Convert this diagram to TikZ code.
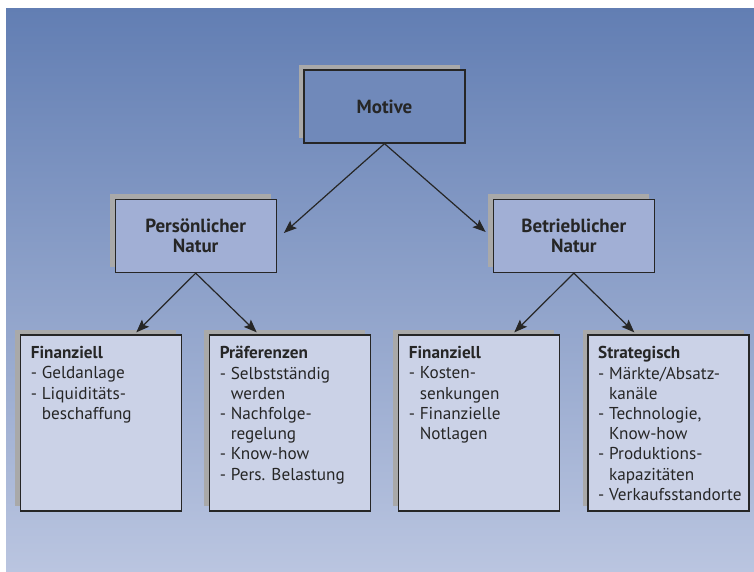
\documentclass[tikz,border=0pt]{standalone}
\usepackage{fontspec}
\setmainfont{PT Sans}
\usetikzlibrary{shadows,arrows.meta,calc}
\definecolor{bgtop}{HTML}{627EB3}
\definecolor{bgbot}{HTML}{BAC5E0}
\definecolor{fillA}{HTML}{7089BA}
\definecolor{fillB}{HTML}{A1AFD5}
\definecolor{fillC}{HTML}{CBD2E7}
\definecolor{shadowgray}{HTML}{A9A9A9}
\definecolor{ink}{HTML}{262626}
\newcommand\dashi{\makebox[11pt][l]{-}}
\newcommand\conti{\hspace*{11pt}}
\begin{document}
\begin{tikzpicture}[x=1pt,y=-1pt,
  boxbase/.style={draw=ink, line width=1.3pt, rectangle, minimum width=161pt, inner sep=0pt,
    drop shadow={shadow xshift=-5.5pt, shadow yshift=5.5pt, fill=shadowgray, opacity=1}},
  topbox/.style={boxbase, minimum height=73pt, align=center, text=ink,
    font=\fontsize{19}{19.5}\selectfont\bfseries},
  lowbox/.style={boxbase, minimum height=176pt, fill=fillC},
  boxtext/.style={anchor=north west, inner sep=0pt, align=left, text=ink,
    font=\fontsize{17.2}{20.2}\selectfont},
  conn/.style={draw=ink, line width=1.2pt, -{Stealth[length=13pt,width=10pt,inset=2.5pt]}}]
\useasboundingbox (0,0) rectangle (754,571);
\shade[top color=bgtop, bottom color=bgbot] (6,8) rectangle (754,571);

\node[topbox, fill=fillA] (mot) at (384.5,106.5) {Motive};
\node[topbox, fill=fillB] (pers) at (195.7,236) {Persönlicher\\Natur};
\node[topbox, fill=fillB] (betr) at (573.8,236) {Betrieblicher\\Natur};

\node[lowbox] (b1) at (101.3,423) {};
\node[lowbox] (b2) at (290.3,423) {};
\node[lowbox] (b3) at (479.3,423) {};
\node[lowbox] (b4) at (668.6,423) {};

\node[boxtext] (t1) at ($(b1.north west)+(10.5,12)$)
  {\textbf{Finanziell}\\\dashi Geldanlage\\\dashi Liquiditäts-\\\conti beschaffung};
\node[boxtext] (t2) at ($(b2.north west)+(10.5,12)$)
  {\textbf{Präferenzen}\\\dashi Selbstständig\\\conti werden\\\dashi Nachfolge-\\\conti regelung\\\dashi Know-how\\\dashi Pers. Belastung};
\node[boxtext] (t3) at ($(b3.north west)+(10.5,12)$)
  {\textbf{Finanziell}\\\dashi Kosten-\\\conti senkungen\\\dashi Finanzielle\\\conti Notlagen};
\node[boxtext] (t4) at ($(b4.north west)+(10.5,12)$)
  {\textbf{Strategisch}\\\dashi Märkte/Absatz-\\\conti kanäle\\\dashi Technologie,\\\conti Know-how\\\dashi Produktions-\\\conti kapazitäten\\\dashi Verkaufsstandorte};

\draw[conn] (mot.south) -- ($(pers.east)+(7,-3)$);
\draw[conn] (mot.south) -- ($(betr.west)+(-7,-4)$);
\draw[conn] (pers.south) -- ($(b1.north)+(35,-2)$);
\draw[conn] (pers.south) -- ($(b2.north)+(-33.6,-2)$);
\draw[conn] (betr.south) -- ($(b3.north)+(35,-2)$);
\draw[conn] (betr.south) -- ($(b4.north)+(-34.3,-2)$);
\end{tikzpicture}
\end{document}
